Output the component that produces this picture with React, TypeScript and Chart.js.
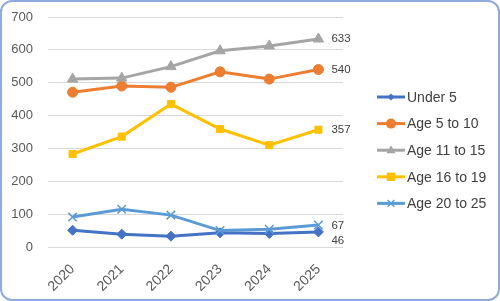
import React, { useEffect, useRef } from "react";
import { Chart, registerables } from "chart.js";

Chart.register(...registerables);

const years = ["2020", "2021", "2022", "2023", "2024", "2025"];
const under5 = [51, 39, 33, 43, 41, 46];
const age5to10 = [471, 490, 486, 533, 511, 540];
const age11to15 = [511, 514, 549, 597, 612, 633];
const age16to19 = [283, 336, 435, 359, 310, 357];
const age20to25 = [91, 115, 97, 50, 54, 67];
const seriesNames = ["Under 5", "Age 5 to 10", "Age 11 to 15", "Age 16 to 19", "Age 20 to 25"];
const yTicks = [0, 100, 200, 300, 400, 500, 600, 700];

const colors = ["#4472C4", "#ED7D31", "#A5A5A5", "#FFC000", "#5B9BD5"];
const pointStyles = ["rectRot", "circle", "triangle", "rect", "crossRot"];
const pointRadii = [5, 5, 6, 5, 6];
const legendRadii = [3.5, 5, 5, 5, 4.5];
// vertical nudge for end labels (px), per series
const labelDy = [9, 0, 0, 0, 1];

export default function App() {
  const ref = useRef<HTMLCanvasElement | null>(null);

  useEffect(() => {
    document.body.style.margin = "0";
    const canvas = ref.current!;
    const seriesData = [under5, age5to10, age11to15, age16to19, age20to25];

    function drawPoint(ctx: CanvasRenderingContext2D, style: string, r: number, x: number, y: number) {
      ctx.beginPath();
      if (style === "circle") {
        ctx.arc(x, y, r, 0, Math.PI * 2);
        ctx.fill();
      } else if (style === "rectRot") {
        ctx.moveTo(x, y - r);
        ctx.lineTo(x + r, y);
        ctx.lineTo(x, y + r);
        ctx.lineTo(x - r, y);
        ctx.closePath();
        ctx.fill();
      } else if (style === "rect") {
        ctx.rect(x - r * 0.85, y - r * 0.85, r * 1.7, r * 1.7);
        ctx.fill();
      } else if (style === "triangle") {
        ctx.moveTo(x, y - r);
        ctx.lineTo(x + r * 0.9, y + r * 0.6);
        ctx.lineTo(x - r * 0.9, y + r * 0.6);
        ctx.closePath();
        ctx.fill();
      } else if (style === "crossRot") {
        const d = r * 0.75;
        ctx.moveTo(x - d, y - d);
        ctx.lineTo(x + d, y + d);
        ctx.moveTo(x + d, y - d);
        ctx.lineTo(x - d, y + d);
        ctx.stroke();
      }
    }

    const decorPlugin = {
      id: "decor",
      beforeDraw(chart: any) {
        const ctx = chart.ctx;
        ctx.save();
        ctx.fillStyle = "#ffffff";
        ctx.fillRect(0, 0, chart.width, chart.height);
        ctx.restore();
      },
      afterDraw(chart: any) {
        const ctx = chart.ctx;
        ctx.save();
        // border
        ctx.strokeStyle = "#8FAADC";
        ctx.lineWidth = 2;
        ctx.beginPath();
        (ctx as any).roundRect(1, 1, chart.width - 2, chart.height - 2, 11);
        ctx.stroke();

        // end labels
        ctx.font = "11.5px 'Liberation Sans', Arial, sans-serif";
        ctx.fillStyle = "#404040";
        ctx.textAlign = "left";
        ctx.textBaseline = "middle";
        chart.data.datasets.forEach((ds: any, i: number) => {
          const meta = chart.getDatasetMeta(i);
          const last = meta.data[meta.data.length - 1];
          const v = ds.data[ds.data.length - 1];
          ctx.fillText(String(v), last.x + 13, last.y + labelDy[i]);
        });

        // legend
        const lx = 377;
        const lw = 28;
        const y0 = 97;
        const gap = 26.6;
        ctx.font = "14px 'Liberation Sans', Arial, sans-serif";
        chart.data.datasets.forEach((ds: any, i: number) => {
          const y = y0 + i * gap;
          ctx.strokeStyle = colors[i];
          ctx.lineWidth = 3;
          ctx.beginPath();
          ctx.moveTo(lx, y);
          ctx.lineTo(lx + lw, y);
          ctx.stroke();
          ctx.fillStyle = colors[i];
          ctx.strokeStyle = colors[i];
          ctx.lineWidth = 1.5;
          drawPoint(ctx, pointStyles[i], legendRadii[i], lx + lw / 2, y);
          ctx.fillStyle = "#404040";
          ctx.fillText(ds.label, lx + lw + 2, y + 1);
        });
        ctx.restore();
      },
    };

    const chart = new Chart(canvas, {
      type: "line",
      data: {
        labels: years,
        datasets: seriesData.map((d, i) => ({
          label: seriesNames[i],
          data: d,
          borderColor: colors[i],
          backgroundColor: colors[i],
          borderWidth: 3,
          pointStyle: pointStyles[i] as any,
          pointRadius: pointRadii[i],
          pointBorderWidth: i === 4 ? 1.5 : 1,
          pointBorderColor: colors[i],
          pointBackgroundColor: colors[i],
          tension: 0,
          order: 5 - i,
        })),
      },
      options: {
        responsive: false,
        animation: false,
        devicePixelRatio: 1,
        layout: { padding: { left: 10, top: 17, right: 157, bottom: 4 } },
        plugins: {
          legend: { display: false },
          tooltip: { enabled: false },
        },
        scales: {
          x: {
            offset: true,
            afterFit: (scale: any) => {
              scale.height = 50;
            },
            grid: { display: false, drawTicks: false },
            border: { display: false },
            ticks: {
              color: "#595959",
              font: { size: 14, family: "'Liberation Sans', Arial, sans-serif" },
              minRotation: 45,
              maxRotation: 45,
              padding: 14,
            },
          },
          y: {
            min: 0,
            max: 700,
            afterBuildTicks: (scale: any) => {
              scale.ticks = yTicks.map((v) => ({ value: v }));
            },
            afterFit: (scale: any) => {
              scale.width = 38;
            },
            grid: {
              color: "#D9D9D9",
              drawTicks: true,
              tickLength: 7,
              tickColor: "rgba(0,0,0,0)",
              lineWidth: 1,
            },
            border: { display: false },
            ticks: {
              color: "#595959",
              font: { size: 13, family: "'Liberation Sans', Arial, sans-serif" },
              padding: 8,
            },
          },
        },
      },
      plugins: [decorPlugin],
    });
    return () => chart.destroy();
  }, []);

  return (
    <div style={{ position: "absolute", left: 0, top: 0, width: 500, height: 301 }}>
      <canvas ref={ref} width={500} height={301} style={{ width: 500, height: 301, display: "block" }} />
    </div>
  );
}
